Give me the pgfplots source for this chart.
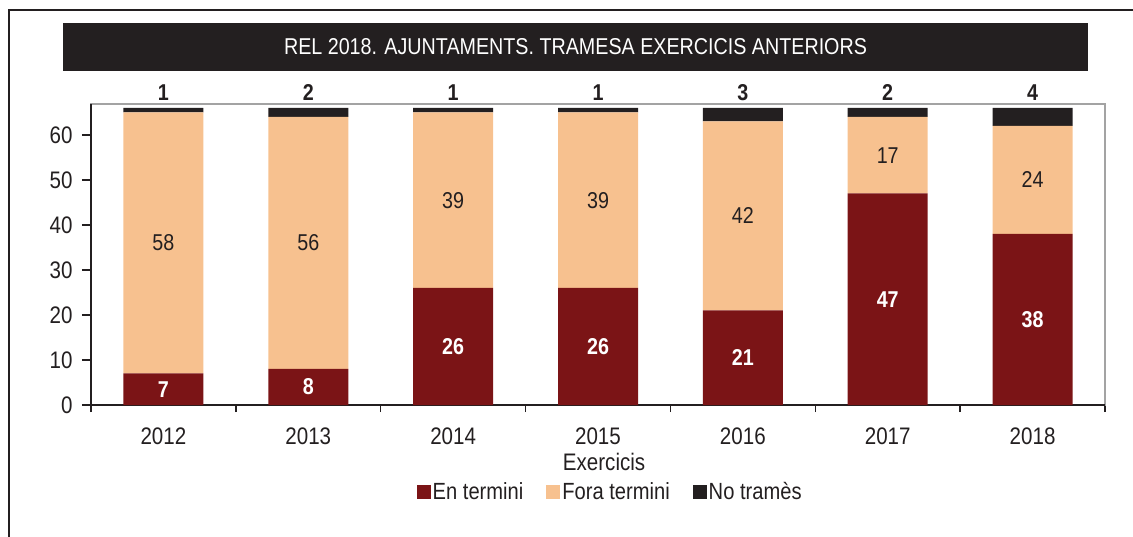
\documentclass[border=0pt]{standalone}
\usepackage{pgfplots}
\pgfplotsset{compat=1.18}
\usepackage{pgfplotstable}
\usepackage{fontspec}
\setmainfont{Liberation Sans}[FakeStretch=0.86]
\definecolor{enc}{HTML}{7B1416}
\definecolor{fora}{HTML}{F7C18F}
\definecolor{notr}{HTML}{231F20}
\definecolor{txt}{HTML}{231F20}
\definecolor{frm}{HTML}{A3A3A3}
\pgfplotstableread{
x en fora no
0 7 58 1
1 8 56 2
2 26 39 1
3 26 39 1
4 21 42 3
5 47 17 2
6 38 24 4
}\data
\newcommand{\fs}{\fontsize{24}{28}\selectfont}
\newcommand{\fl}{\fontsize{23.5}{28}\selectfont}
\newcommand{\fd}{\fontsize{23}{27}\selectfont}
\begin{document}
\begin{tikzpicture}
\path[use as bounding box] (0,0) rectangle (1133bp,537bp);
\fill[notr] (63bp,466bp) rectangle (1088bp,514bp);
\node[text=white, font=\fontsize{23}{27}\selectfont] at (575.5bp,490bp) {REL 2018. AJUNTAMENTS. TRAMESA EXERCICIS ANTERIORS};
\draw[notr, line width=2bp] (9.3bp,0) -- (9.3bp,527bp) -- (1133bp,527bp);
\begin{axis}[
  at={(91bp,132bp)}, anchor=south west,
  x=144.857bp, y=4.5bp,
  xmin=-0.5, xmax=6.5, ymin=0, ymax=66.9,
  ybar stacked, bar width=80bp,
  clip=false,
  axis line style={draw=frm, line width=2.5bp},
  tick pos=left, tick align=outside,
  xtick={0,...,6},
  xticklabels={2012,2013,2014,2015,2016,2017,2018},
  minor xtick={-0.5,0.5,...,6.5},
  ytick={0,10,...,60},
  major tick length=9bp,
  minor tick length=7bp,
  major x tick style={draw=none},
  minor x tick style={draw=txt, line width=1.5bp},
  major y tick style={draw=txt, line width=2.5bp},
  /pgf/number format/assume math mode=true,
  ticklabel style={font=\fs, text=txt},
  xticklabel style={yshift=-10bp},
  yticklabel style={xshift=-6bp},
  xlabel={Exercicis},
  xlabel style={font=\fs, text=txt, at={(axis description cs:0.506,-0.189)}, anchor=center},
  legend style={at={(0.512,-0.289)}, anchor=center, draw=none, fill=none,
    font=\fl, text=txt, legend columns=3,
    /tikz/every even column/.append style={column sep=21bp}},
  legend image code/.code={\fill[#1] (0bp,-7bp) rectangle (14bp,7bp);},
]
\addplot[fill=enc, draw=none,
  nodes near coords, point meta=explicit,
  every node near coord/.style={anchor=center, text=white, font=\bfseries\fd}]
  table[x=x, y=en, meta=en] {\data};
\addlegendentry{En termini}
\addplot[fill=fora, draw=none,
  nodes near coords, point meta=explicit,
  every node near coord/.style={anchor=center, text=txt, font=\fd}]
  table[x=x, y=fora, meta=fora] {\data};
\addlegendentry{Fora termini}
\addplot[fill=notr, draw=none,
  nodes near coords, point meta=explicit,
  visualization depends on={rawy \as \v},
  every node near coord/.style={anchor=south, inner sep=0pt, yshift=\v*2.25bp+7bp, text=txt, font=\bfseries\fd}]
  table[x=x, y=no, meta=no] {\data};
\addlegendentry{No tramès}
\draw[txt, line width=2.5bp] (rel axis cs:0,1) -- (rel axis cs:0,0) -- (rel axis cs:1,0);
\end{axis}
\end{tikzpicture}
\end{document}
